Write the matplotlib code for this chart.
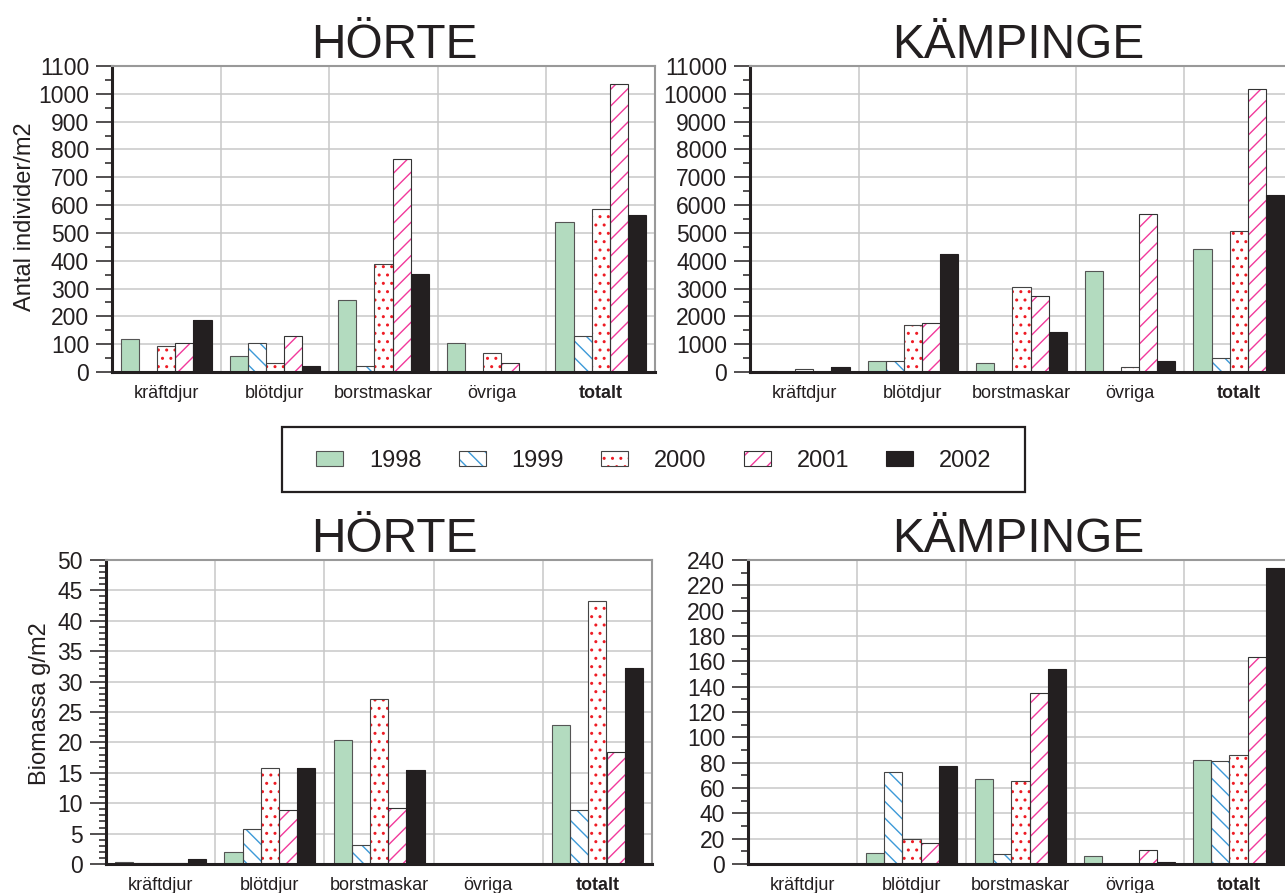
import numpy as np
import matplotlib
matplotlib.use('Agg')
import matplotlib.pyplot as plt
from matplotlib.patches import Patch, Rectangle
from matplotlib.ticker import MultipleLocator

plt.rcParams['font.family'] = ['Liberation Sans', 'DejaVu Sans']
plt.rcParams['hatch.linewidth'] = 1.0
plt.rcParams['text.color'] = '#231f20'

# ── Data ─────────────────────────────────────────────────────────────────────
CATEGORIES = ['kräftdjur', 'blötdjur', 'borstmaskar', 'övriga', 'totalt']
YEARS = ['1998', '1999', '2000', '2001', '2002']

# Antal individer/m2, rows = years 1998..2002, cols = categories
horte_antal = [
    [117, 59, 259, 105, 540],
    [0, 105, 23, 0, 128],
    [93, 34, 388, 70, 587],
    [105, 128, 765, 34, 1035],
    [188, 23, 352, 0, 565],
]
kampinge_antal = [
    [40, 410, 337, 3614, 4422],
    [0, 410, 48, 0, 494],
    [120, 1675, 3060, 193, 5060],
    [0, 1747, 2723, 5663, 10169],
    [170, 4241, 1446, 410, 6349],
]

# Biomassa g/m2
horte_bio = [
    [0.27, 1.9, 20.4, 0, 22.9],
    [0.1, 5.7, 3.06, 0, 8.8],
    [0.15, 15.85, 27.16, 0, 43.3],
    [0.15, 8.8, 9.23, 0, 18.36],
    [0.82, 15.74, 15.46, 0, 32.2],
]
kampinge_bio = [
    [0, 8.4, 66.9, 6.0, 81.8],
    [0, 72.4, 7.6, 0, 81.0],
    [0, 19.4, 65.6, 0, 86.3],
    [0, 16.8, 135.1, 10.75, 163.4],
    [0, 77.4, 154.0, 1.3, 233.4],
]

# ── Styles per year ──────────────────────────────────────────────────────────
STYLES = [
    dict(face='#b3dbbf', hatch=None, hc='#b3dbbf', edge='#555555'),
    dict(face='white', hatch='\\\\', hc='#3d9ad8', edge='#444444'),
    dict(face='white', hatch='..', hc='#ee1c25', edge='#444444'),
    dict(face='white', hatch='//', hc='#f2399b', edge='#333333'),
    dict(face='#231f20', hatch=None, hc='#231f20', edge='#231f20'),
]
GRID_C = '#c8c8c8'
INK = '#231f20'


def draw_panel(ax, data, ymax, major, minor):
    x = np.arange(len(CATEGORIES))
    w = 1 / 6
    for i, (vals, st) in enumerate(zip(data, STYLES)):
        pos = x + (i - 2) * w
        ax.bar(pos, vals, w, color=st['face'], edgecolor=st['hc'],
               hatch=st['hatch'], linewidth=0, zorder=3)
        ax.bar(pos, vals, w, fill=False, edgecolor=st['edge'],
               linewidth=0.8, zorder=4)

    ax.set_xlim(-0.5, 4.5)
    ax.set_ylim(0, ymax)

    ax.yaxis.set_major_locator(MultipleLocator(major))
    ax.yaxis.set_minor_locator(MultipleLocator(minor))
    ax.tick_params(axis='y', which='major', length=11.5, width=1.1,
                   color=INK, labelsize=16.5, pad=5, labelcolor=INK)
    ax.tick_params(axis='y', which='minor', length=5, width=1.1, color=INK)

    ax.set_xticks(x)
    ax.set_xticklabels(CATEGORIES)
    ax.set_xticks([0.5, 1.5, 2.5, 3.5], minor=True)
    ax.tick_params(axis='x', which='both', length=0, labelsize=13,
                   pad=9, labelcolor=INK)
    ax.get_xticklabels()[-1].set_fontweight('bold')

    ax.yaxis.grid(True, which='major', color=GRID_C, linewidth=1.1)
    ax.xaxis.grid(True, which='minor', color=GRID_C, linewidth=1.1)
    ax.set_axisbelow(True)

    for side in ('left', 'bottom'):
        ax.spines[side].set_color(INK)
        ax.spines[side].set_linewidth(2.2)
    for side in ('top', 'right'):
        ax.spines[side].set_color('#999999')
        ax.spines[side].set_linewidth(1.5)
    for sp in ax.spines.values():
        sp.set_zorder(6)


# ── Figure ───────────────────────────────────────────────────────────────────
W, H = 1285, 893
fig = plt.figure(figsize=(W / 100, H / 100), dpi=100)


def px_axes(left, top, right, bottom):
    return fig.add_axes([left / W, 1 - bottom / H, (right - left) / W, (bottom - top) / H])


ax_tl = px_axes(112, 66, 655, 372)
ax_tr = px_axes(750, 66, 1293, 372)
ax_bl = px_axes(106, 560, 652, 864)
ax_br = px_axes(748, 560, 1293, 864)

draw_panel(ax_tl, horte_antal, 1100, 100, 50)
draw_panel(ax_tr, kampinge_antal, 11000, 1000, 500)
draw_panel(ax_bl, horte_bio, 50, 5, 1)
draw_panel(ax_br, kampinge_bio, 240, 20, 10)

# Titles
for cx_, base, name in [(394, 58, 'HÖRTE'), (1018, 58, 'KÄMPINGE'),
                        (394, 552, 'HÖRTE'), (1018, 552, 'KÄMPINGE')]:
    fig.text(cx_ / W, 1 - base / H, name, ha='center', va='baseline',
             fontsize=34.5, color=INK)

# Y labels
fig.text(25 / W, 1 - 217 / H, 'Antal individer/m2', rotation=90,
         ha='center', va='center', fontsize=17, color=INK)
fig.text(40 / W, 1 - 704 / H, 'Biomassa g/m2', rotation=90,
         ha='center', va='center', fontsize=17, color=INK)

# Legend
handles = []
for st in STYLES:
    fill = Patch(facecolor=st['face'], edgecolor=st['hc'], hatch=st['hatch'], linewidth=0)
    outline = Patch(fill=False, edgecolor=st['edge'], linewidth=0.8)
    handles.append((fill, outline))

fig.legend(handles, YEARS, loc='center', bbox_to_anchor=(654 / W, 1 - 461 / H),
           ncol=5, frameon=False, fontsize=17, handlelength=1.14,
           handleheight=0.6, handletextpad=1.1, columnspacing=1.57)
fig.add_artist(Rectangle((282 / W, 1 - 492 / H), 743 / W, 65 / H,
                         transform=fig.transFigure, fill=False,
                         edgecolor=INK, linewidth=1.6))

fig.savefig('out.png', dpi=100)
